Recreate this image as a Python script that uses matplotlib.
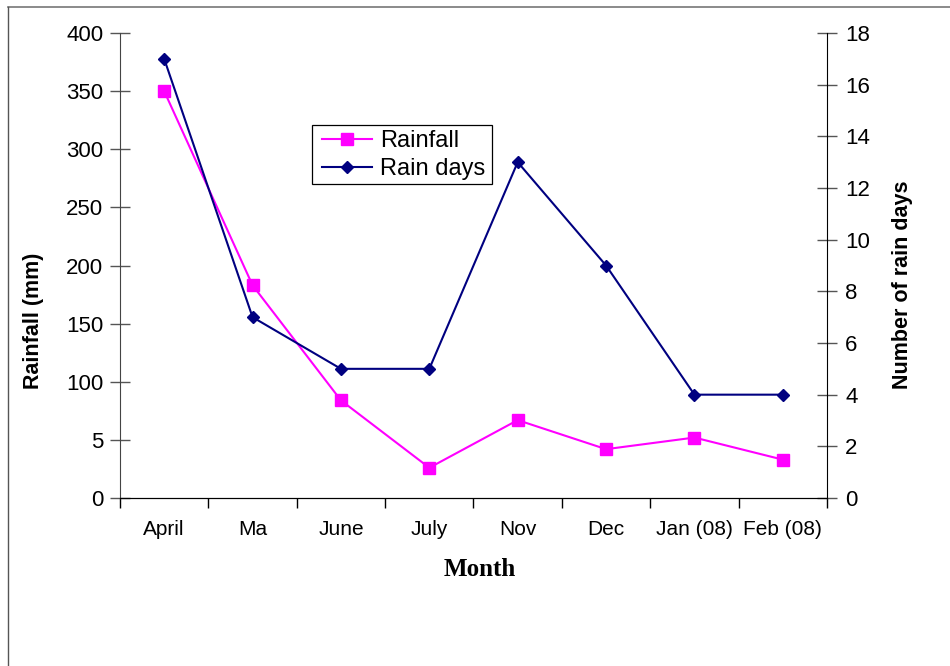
import matplotlib.pyplot as plt
from matplotlib.lines import Line2D
from matplotlib.patches import Rectangle

months = ["April", "Ma", "June", "July", "Nov", "Dec", "Jan (08)", "Feb (08)"]
rainfall = [350, 183, 84, 26, 67, 42, 52, 33]
rain_days = [17, 7, 5, 5, 13, 9, 4, 4]

left_ticks = [0, 50, 100, 150, 200, 250, 300, 350, 400]
left_labels = ["0", "5", "100", "150", "200", "250", "300", "350", "400"]
right_ticks = [0, 2, 4, 6, 8, 10, 12, 14, 16, 18]

plt.rcParams['font.family'] = ['Liberation Sans', 'DejaVu Sans']

W, H = 950, 666
fig = plt.figure(figsize=(9.5, 6.66), dpi=100)
ax = fig.add_axes([120 / W, 1 - 498 / H, 707 / W, 465 / H])
ax2 = ax.twinx()

x = list(range(len(months)))
l1, = ax.plot(x, rainfall, color="#FF00FF", marker="s", markersize=8,
              linewidth=1.5, label="Rainfall")
l2, = ax2.plot(x, rain_days, color="#000080", marker="D", markersize=6,
               linewidth=1.5, label="Rain days")

ax.set_xlim(-0.5, len(months) - 0.5)
ax.set_ylim(0, 400)
ax2.set_ylim(0, 18)

# category names in the middle, tick marks on the boundaries
ax.set_xticks([i - 0.5 for i in range(len(months) + 1)])
ax.set_xticklabels([])
ax.set_xticks(x, minor=True)
ax.set_xticklabels(months, minor=True, fontsize=15)
ax.tick_params(axis="x", which="major", direction="out", length=7, width=1)
ax.tick_params(axis="x", which="minor", length=0, pad=16)

ax.set_yticks(left_ticks)
ax.set_yticklabels(left_labels, fontsize=16)
ax.tick_params(axis="y", direction="inout", length=14, width=1, color="#555555", pad=5)
ax2.set_yticks(right_ticks)
ax2.tick_params(axis="y", direction="inout", length=14, width=1, color="#555555",
                labelsize=16, pad=6)

ax.spines["top"].set_visible(False)
ax2.spines["top"].set_visible(False)
ax.spines["left"].set_color("#444444")
ax2.spines["left"].set_visible(False)
ax.spines["right"].set_visible(False)
ax2.spines["right"].set_color("black")

ax.set_ylabel("Rainfall (mm)", fontsize=15.5, fontweight="bold")
ax.yaxis.set_label_coords((44 - 120) / 707, (498 - 321) / 465)
ax2.set_ylabel("Number of rain days", fontsize=15.5, fontweight="bold")
ax2.yaxis.set_label_coords((892 - 120) / 707, (498 - 285) / 465)
ax.set_xlabel("Month", fontsize=18, fontweight="bold", family="Liberation Serif")
ax.xaxis.set_label_coords((480 - 120) / 707, (498 - 558) / 465)

# legend entries, box drawn separately
leg = ax.legend(handles=[l1, l2], loc="upper left",
                bbox_to_anchor=((322 - 120) / 707, (498 - 130) / 465), borderaxespad=0,
                frameon=False, fontsize=17, handlelength=2.1, borderpad=0,
                labelspacing=0.25, handletextpad=0.35)
ax.add_patch(Rectangle(((312 - 120) / 707, (498 - 184) / 465), 180 / 707, 59 / 465,
                       transform=ax.transAxes, fill=False, edgecolor="black",
                       linewidth=0.9, zorder=1))

# outer frame lines
fig.add_artist(Line2D([8 / W, 1], [1 - 7 / H, 1 - 7 / H],
                      color="#777777", linewidth=1.2, transform=fig.transFigure))
fig.add_artist(Line2D([8 / W, 8 / W], [0, 1 - 7 / H],
                      color="#555555", linewidth=1.0, transform=fig.transFigure))

fig.savefig("out.png", dpi=100)
